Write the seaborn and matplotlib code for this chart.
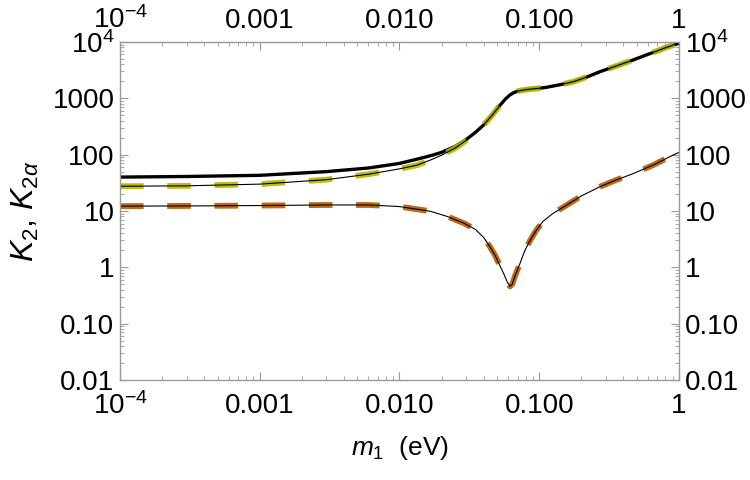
import numpy as np
import matplotlib
matplotlib.use("Agg")
import matplotlib.pyplot as plt
import seaborn as sns
from matplotlib.ticker import FixedLocator, FixedFormatter, LogLocator, NullFormatter

# --- data ---
# thick black curve
x_tot = [1e-4, 3e-4, 1e-3, 3e-3, 6e-3, 0.01, 0.0133, 0.017, 0.02, 0.025, 0.03, 0.035,
         0.04, 0.046, 0.0525, 0.0575, 0.0617, 0.066, 0.07, 0.0766, 0.085, 0.1, 0.113,
         0.14, 0.175, 0.22, 0.272, 0.35, 0.469, 0.65, 0.8, 1.0]
y_tot = [40, 41, 43, 50, 58, 70, 83, 97, 110, 140, 185, 250,
         336, 500, 760, 980, 1150, 1270, 1340, 1400, 1450, 1510, 1570,
         1740, 1970, 2400, 2970, 3700, 4790, 6500, 7900, 9600]

# thin black / yellow dashed (upper)
x_up = [1e-4, 3e-4, 1e-3, 3e-3, 6e-3, 0.01, 0.0133, 0.017, 0.02, 0.025, 0.03, 0.035,
        0.04, 0.046, 0.0525, 0.0575, 0.0617, 0.066, 0.07, 0.0766, 0.085, 0.1, 0.113,
        0.14, 0.175, 0.22, 0.272, 0.35, 0.469, 0.65, 0.8, 1.0]
y_up = [27.5, 28, 30, 36, 45, 56, 65, 82, 98, 130, 180, 248,
        336, 500, 760, 980, 1150, 1270, 1340, 1400, 1450, 1510, 1570,
        1740, 1970, 2400, 2970, 3700, 4790, 6500, 7900, 9600]

# thin black / orange dashed (lower)
x_lo = [1e-4, 3e-4, 1e-3, 3e-3, 6e-3, 0.01, 0.0166, 0.022, 0.0288, 0.035, 0.04, 0.0445,
        0.0485, 0.0525, 0.056, 0.059, 0.0617, 0.064, 0.067, 0.0728, 0.079, 0.086, 0.095,
        0.106, 0.125, 0.157, 0.2, 0.272, 0.35, 0.469, 0.65, 0.906, 1.0]
y_lo = [12.2, 12.3, 12.5, 12.8, 12.8, 12.0, 9.9, 8.0, 6.1, 4.7, 3.4, 2.3,
        1.6, 1.05, 0.75, 0.55, 0.46, 0.5, 0.7, 1.17, 2.0, 3.0, 4.5,
        6.5, 9.0, 12.7, 18.5, 27, 35, 46, 65, 98, 110]

x_ticks = [1e-4, 1e-3, 1e-2, 1e-1, 1]
x_labels = [r"$10^{-4}$", "0.001", "0.010", "0.100", "1"]
y_ticks = [1e-2, 1e-1, 1, 10, 100, 1000, 1e4]
y_labels = ["0.01", "0.10", "1", "10", "100", "1000", r"$10^{4}$"]

sns.set_style("ticks")
plt.rcParams["font.family"] = ["Liberation Sans", "DejaVu Sans"]
plt.rcParams["mathtext.fontset"] = "custom"
plt.rcParams["mathtext.rm"] = "Liberation Sans"
plt.rcParams["mathtext.it"] = "Liberation Sans:italic"
plt.rcParams["lines.scale_dashes"] = False
plt.rcParams["text.color"] = "black"
plt.rcParams["axes.labelcolor"] = "black"
plt.rcParams["xtick.labelcolor"] = "black"
plt.rcParams["ytick.labelcolor"] = "black"

fig = plt.figure(figsize=(7.5, 4.8), dpi=100)
ax = fig.add_axes([0.16, 0.2083, 0.7453, 0.7042])

yellow = "#b4b400"
orange = "#b55a00"

sns.lineplot(x=x_tot, y=y_tot, ax=ax, color="black", lw=2.4, sort=False)
sns.lineplot(x=x_up, y=y_up, ax=ax, color=yellow, lw=4.2, alpha=0.9, sort=False)
ax.lines[-1].set_dashes((17, 17))
sns.lineplot(x=x_up, y=y_up, ax=ax, color="black", lw=0.8, sort=False)
sns.lineplot(x=x_lo, y=y_lo, ax=ax, color=orange, lw=4.2, alpha=0.9, sort=False)
ax.lines[-1].set_dashes((17, 17))
sns.lineplot(x=x_lo, y=y_lo, ax=ax, color="black", lw=0.8, sort=False)

ax.set_xscale("log")
ax.set_yscale("log")
ax.set_xlim(1e-4, 1)
ax.set_ylim(1e-2, 1e4)

ax.xaxis.set_major_locator(FixedLocator(x_ticks))
ax.xaxis.set_major_formatter(FixedFormatter(x_labels))
ax.yaxis.set_major_locator(FixedLocator(y_ticks))
ax.yaxis.set_major_formatter(FixedFormatter(y_labels))
ax.xaxis.set_minor_locator(LogLocator(base=10, subs=np.arange(2, 10), numticks=20))
ax.yaxis.set_minor_locator(LogLocator(base=10, subs=np.arange(2, 10), numticks=20))
ax.xaxis.set_minor_formatter(NullFormatter())
ax.yaxis.set_minor_formatter(NullFormatter())

ax.tick_params(which="both", direction="in", top=True, right=True,
               color="#999999", labelsize=20, labelcolor="black")
ax.tick_params(axis="x", pad=9)
ax.tick_params(axis="y", pad=4, labelright=True)
ax.tick_params(which="major", length=6, width=0.8)
ax.tick_params(which="minor", length=3, width=0.6)
for s in ax.spines.values():
    s.set_color("#999999")
    s.set_linewidth(1.0)

# top labels, a bit closer to the frame
top = ax.secondary_xaxis("top")
top.xaxis.set_major_locator(FixedLocator(x_ticks))
top.xaxis.set_major_formatter(FixedFormatter(x_labels))
top.xaxis.set_minor_locator(LogLocator(base=10, subs=np.arange(2, 10), numticks=20))
top.xaxis.set_minor_formatter(NullFormatter())
top.tick_params(which="both", direction="in", length=0, labelsize=20, pad=6,
                labelcolor="black")
top.spines["top"].set_visible(False)

ax.set_xlabel(r"$m_1$  (eV)", fontsize=19, labelpad=10)
ax.set_ylabel(r"$K_2$, $K_{2\alpha}$", fontsize=23, labelpad=8)

fig.savefig("out.png", dpi=100)
